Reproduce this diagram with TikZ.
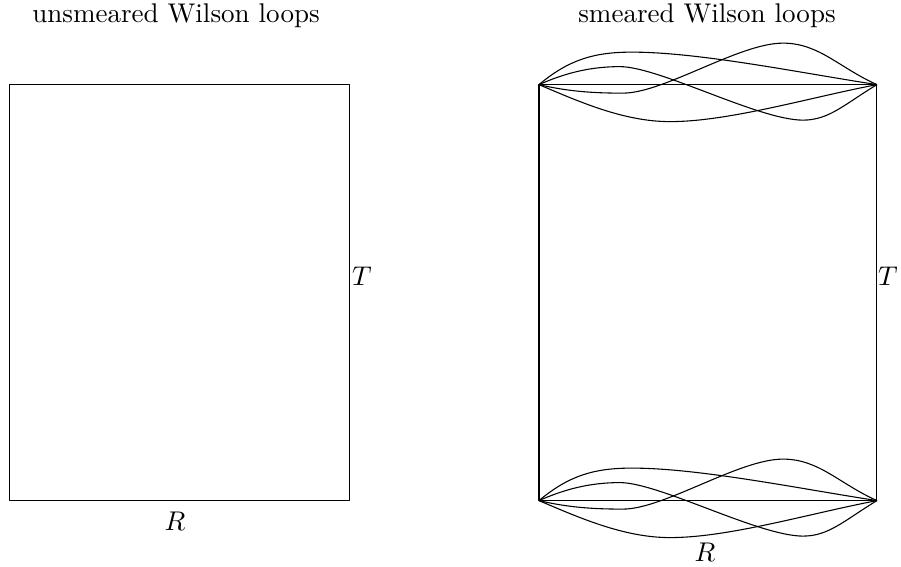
\documentclass[tikz,border=0pt]{standalone}
\usepackage{amsmath, amssymb}
\usepackage{tikz}
\usepackage{tkz-euclide}
\usepackage{xcolor}

\begin{document}
\begin{tikzpicture}[scale=1.3]
                \useasboundingbox (0,0) rectangle (9.01,5.67);
                \tkzDefPoints{0.093/0.664/A, 3.493/0.664/B, 3.493/4.824/C, 0.093/4.824/D}
                \tkzDefPoints{5.39/0.664/E, 8.77/0.664/F, 8.77/4.824/G, 5.39/4.824/H}
                \tkzDrawPolygon[black, thin](A,B,C,D)
                \tkzDrawPolygon[black, thin](E,F,G,H)
                \foreach \P in {E,H}{
                    \draw[black, thin, shift={(\P)}] (0,0) .. controls (0.3,0.25) and (0.55,0.325) .. (0.93,0.325) .. controls (1.6,0.325) and (2.6,0.12) .. (3.38,0);
                    \draw[black, thin, shift={(\P)}] (0,0) .. controls (0.25,0.11) and (0.5,0.18) .. (0.81,0.18) .. controls (1.2,0.18) and (2.2,-0.355) .. (2.64,-0.355) .. controls (2.9,-0.355) and (3.05,-0.2) .. (3.38,0);
                    \draw[black, thin, shift={(\P)}] (0,0) .. controls (0.3,-0.07) and (0.55,-0.085) .. (0.84,-0.085) .. controls (1.25,-0.085) and (2.0,0.415) .. (2.44,0.415) .. controls (2.8,0.415) and (3.0,0.17) .. (3.38,0);
                    \draw[black, thin, shift={(\P)}] (0,0) .. controls (0.4,-0.17) and (0.85,-0.37) .. (1.31,-0.37) .. controls (1.9,-0.37) and (2.7,-0.13) .. (3.38,0);
                }
                \node (unsm) at (1.76,5.51) {unsmeared Wilson loops};
                \node (sm) at (7.07,5.51) {smeared Wilson loops};
                \node (TL) at (3.62,2.91) {$T$};
                \node (RL) at (1.75,0.46) {$R$};
                \node (TR) at (8.88,2.91) {$T$};
                \node (RR) at (7.05,0.15) {$R$};
            \end{tikzpicture}
\end{document}
